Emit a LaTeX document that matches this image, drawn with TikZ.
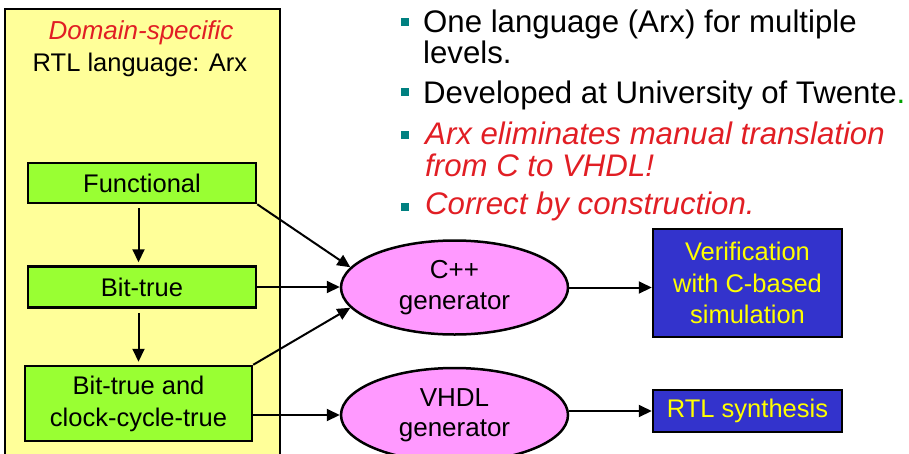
\documentclass[tikz,border=0pt]{standalone}
\usepackage{fontspec}
\setmainfont{Liberation Sans}
\usetikzlibrary{shapes.geometric, arrows.meta}
\definecolor{arxyellow}{RGB}{255,255,153}
\definecolor{levelgreen}{RGB}{153,255,51}
\definecolor{genpink}{RGB}{255,153,255}
\definecolor{resblue}{RGB}{51,51,204}
\definecolor{restext}{RGB}{255,255,0}
\definecolor{notered}{RGB}{225,30,36}
\definecolor{dotteal}{RGB}{0,128,128}
\definecolor{twentegreen}{RGB}{0,160,0}

\begin{document}
\begin{tikzpicture}[x=1pt,y=-1pt,>={Triangle[length=13pt,width=12pt]},
                level/.style={draw,line width=2.5pt,fill=levelgreen,inner sep=0pt,align=center,
                    minimum width=228pt,font=\fontsize{25.5}{32}\selectfont},
                gen/.style={ellipse,draw,line width=2.5pt,fill=genpink,inner sep=0pt,align=center,
                    minimum width=227pt,minimum height=94pt,font=\fontsize{26}{30.5}\selectfont},
                result/.style={draw,line width=2.5pt,fill=resblue,text=restext,inner sep=0pt,align=center,
                    minimum width=189pt,font=\fontsize{25.5}{31.5}\selectfont},
                link/.style={->,line width=2pt},
                point/.style={anchor=base west,align=left,inner sep=0pt,font=\fontsize{31.2}{30.5}\selectfont},
                dot/.style={fill=dotteal,minimum size=8pt,inner sep=0pt}]
                \useasboundingbox (0,0) rectangle (909,453);
                \clip (0,0) rectangle (909,453);
                \draw[line width=2.5pt,fill=arxyellow] (5,9) rectangle (280,475);
                \node[font=\fontsize{26}{31}\selectfont\itshape,text=notered] (domain) at (141,33) {Domain-specific};
                \node[font=\fontsize{25.5}{31}\selectfont] (rtllang) at (140,65) {RTL language: Arx};
                \node[level,minimum height=40pt] (func) at (142,183) {Functional};
                \node[level,minimum height=41pt] (bittrue) at (142,287) {Bit-true};
                \node[level,minimum width=227pt,minimum height=75pt] (cycletrue) at (138.5,403.5) {Bit-true and\\clock-cycle-true};
                \node[gen] (cppgen) at (454.5,287.5) {C++\\generator};
                \node[gen] (vhdlgen) at (454.5,415) {VHDL\\generator};
                \node[result,minimum height=108pt] (verif) at (747.5,283) {Verification\\with C-based\\simulation};
                \node[result,minimum height=42pt] (rtlsyn) at (747.5,411) {RTL synthesis};
                \draw[link,shorten <=4pt,shorten >=3pt] (func.south -| cycletrue.north) -- (bittrue.north -| cycletrue.north);
                \draw[link,shorten <=4pt,shorten >=3pt] (bittrue.south -| cycletrue.north) -- (cycletrue.north);
                \draw[link] (func.south east) -- (cppgen.169);
                \draw[link] (bittrue.east) -- (bittrue.east -| cppgen.west);
                \draw[link] (cycletrue.north east) -- (cppgen.191);
                \draw[link] (cycletrue.east |- vhdlgen.west) -- (vhdlgen.west);
                \draw[link] (cppgen.east) -- (verif.west |- cppgen.east);
                \draw[link] (vhdlgen.east |- rtlsyn.west) -- (rtlsyn.west);
                \node[dot] (dot1) at (405,22) {};
                \node[dot] (dot2) at (405,92) {};
                \node[dot] (dot3) at (405,135) {};
                \node[dot] (dot4) at (405,207) {};
                \node[point] (pt1) at (423,63) {One language (Arx) for multiple\\levels.};
                \node[point] (pt2) at (423,103) {Developed at University of Twente{\color{twentegreen}.}};
                \node[point,font=\fontsize{31.2}{31.5}\selectfont\itshape,text=notered] (pt3) at (425,176) {Arx eliminates manual translation\\from C to VHDL!};
                \node[point,font=\fontsize{31.2}{31}\selectfont\itshape,text=notered] (pt4) at (425,214) {Correct by construction.};
            \end{tikzpicture}
\end{document}
